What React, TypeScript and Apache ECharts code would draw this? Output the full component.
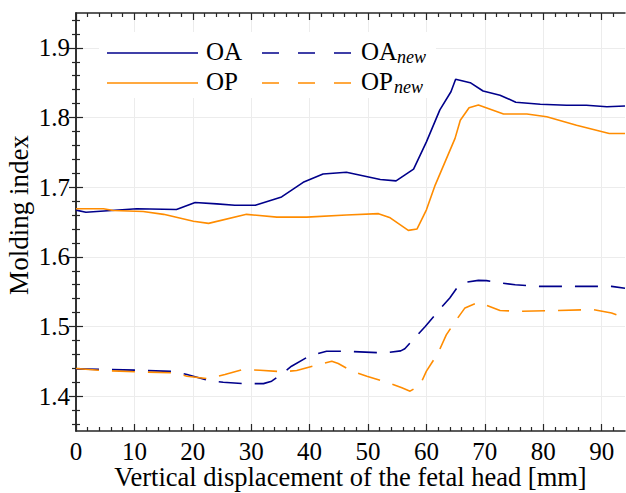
import React, { useEffect, useRef } from "react";
import * as echarts from "echarts";

// Vertical displacement of the fetal head [mm] and molding index, per configuration
const oaX = [0, 1.7, 10.4, 17.2, 20.4, 24.1, 27.2, 30.7, 35.2, 38.9, 42.3, 46.3, 52.1, 54.8, 57.8, 60.0, 62.3, 64.2, 65.0, 67.5, 69.7, 72.6, 75.3, 79.5, 84.0, 87.4, 90.9, 94];
const oaY = [1.667, 1.664, 1.669, 1.668, 1.678, 1.676, 1.674, 1.674, 1.686, 1.707, 1.719, 1.7215, 1.711, 1.709, 1.726, 1.765, 1.811, 1.837, 1.855, 1.85, 1.838, 1.832, 1.822, 1.819, 1.8175, 1.8175, 1.8155, 1.8165];

const opX = [0, 4.7, 6.4, 11.5, 15, 20.1, 22.7, 29.2, 34.4, 39.5, 46.3, 51.8, 53.8, 56.9, 58.4, 60.0, 61.5, 64.9, 65.8, 67.3, 68.9, 73.2, 77.2, 80.6, 85.7, 91.3, 94];
const opY = [1.669, 1.669, 1.6665, 1.665, 1.661, 1.651, 1.648, 1.661, 1.657, 1.657, 1.66, 1.662, 1.656, 1.638, 1.64, 1.6675, 1.703, 1.77, 1.796, 1.814, 1.818, 1.805, 1.805, 1.801, 1.789, 1.777, 1.777];

const oaNewX = [0, 10.4, 16.7, 19, 22.7, 25.2, 28.9, 32.1, 33.5, 34.9, 36.9, 40.1, 42.9, 46.3, 52.6, 55.6, 56.3, 58.0, 59.8, 62.3, 64.0, 65.2, 66.6, 68.9, 70.3, 72.6, 75.2, 78.9, 85.2, 91.7, 94];
const oaNewY = [1.4392, 1.4373, 1.4354, 1.431, 1.4225, 1.42, 1.418, 1.418, 1.4215, 1.4297, 1.443, 1.4583, 1.4645, 1.4645, 1.462, 1.465, 1.468, 1.4837, 1.5, 1.525, 1.541, 1.555, 1.5633, 1.5662, 1.5658, 1.5625, 1.56, 1.5576, 1.5576, 1.5576, 1.555];

const opNewX = [0, 4.1, 10.4, 16.7, 19, 22.7, 25.5, 28.4, 31.5, 35.5, 37.8, 41.5, 43.8, 44.9, 47.2, 49.8, 53.2, 55.8, 57.2, 58.9, 60.0, 62.0, 63.4, 65.0, 66.6, 68.9, 70.0, 72.6, 76.0, 82.3, 88.6, 91.7, 94];
const opNewY = [1.4397, 1.437, 1.435, 1.4335, 1.4287, 1.425, 1.431, 1.438, 1.4373, 1.435, 1.4368, 1.4455, 1.45, 1.4468, 1.436, 1.4287, 1.42, 1.412, 1.4072, 1.4158, 1.436, 1.462, 1.488, 1.508, 1.5267, 1.5347, 1.5314, 1.523, 1.5218, 1.523, 1.5242, 1.5195, 1.5123];

// Axis ticks
const xMajor = [0, 10, 20, 30, 40, 50, 60, 70, 80, 90];
const xMinor = [2, 4, 6, 8, 12, 14, 16, 18, 22, 24, 26, 28, 32, 34, 36, 38, 42, 44, 46, 48, 52, 54, 56, 58, 62, 64, 66, 68, 72, 74, 76, 78, 82, 84, 86, 88, 92];
const yMajor = [1.4, 1.5, 1.6, 1.7, 1.8, 1.9];
const yMinor = [1.36, 1.38, 1.42, 1.44, 1.46, 1.48, 1.52, 1.54, 1.56, 1.58, 1.62, 1.64, 1.66, 1.68, 1.72, 1.74, 1.76, 1.78, 1.82, 1.84, 1.86, 1.88, 1.92, 1.94];

const X_TITLE = "Vertical displacement of the fetal head [mm]";
const Y_TITLE = "Molding index";

const X_MIN = 0;
const X_MAX = 94;
const Y_MIN = 1.35;
const Y_MAX = 1.95;

const BLUE = "#00008b";
const ORANGE = "#ff8c00";
const FRAME = "#262626";
const FONT = "Liberation Serif";

const GRID_RECT = { left: 76, top: 13, right: 1, bottom: 62 };

const zip = (xs: number[], ys: number[]) => xs.map((x, i) => [x, ys[i]]);

function makeXAxis(gridIndex: number, position: "top" | "bottom", major: boolean, withLabels: boolean) {
  return {
    type: "value",
    gridIndex,
    position,
    min: X_MIN,
    max: X_MAX,
    interval: 10,
    axisLine: { show: major, lineStyle: { color: FRAME, width: 1.5 } },
    axisTick: {
      show: true,
      inside: true,
      length: major ? 7 : 4,
      customValues: major ? xMajor : xMinor,
      lineStyle: { color: FRAME, width: 1.2 },
    },
    axisLabel: {
      show: withLabels,
      customValues: xMajor,
      fontSize: 25,
      lineHeight: 26,
      fontFamily: FONT,
      color: "#000",
      margin: 7,
    },
    splitLine: { show: major && withLabels, lineStyle: { color: "#ececec", width: 1 } },
  };
}

function makeYAxis(gridIndex: number, position: "left" | "right", major: boolean, withLabels: boolean) {
  return {
    type: "value",
    gridIndex,
    position,
    min: Y_MIN,
    max: Y_MAX,
    axisLine: { show: major, lineStyle: { color: FRAME, width: 1.5 } },
    axisTick: {
      show: true,
      inside: true,
      length: major ? 7 : 4,
      customValues: major ? yMajor : yMinor,
      lineStyle: { color: FRAME, width: 1.2 },
    },
    axisLabel: {
      show: withLabels,
      customValues: yMajor,
      fontSize: 25,
      fontFamily: FONT,
      color: "#000",
      margin: 6,
      formatter: (v: number) => v.toFixed(1),
    },
    splitLine: { show: major && withLabels, lineStyle: { color: "#ececec", width: 1 } },
  };
}

// Axis titles, placed as free text so they never squeeze the plotting area
function axisTitles() {
  return [
    {
      type: "text",
      x: 350.5,
      y: 477,
      style: { text: X_TITLE, fontSize: 26.5, lineHeight: 20, fontFamily: FONT, fill: "#000", align: "center", verticalAlign: "middle" },
    },
    {
      type: "text",
      x: 19,
      y: 215,
      rotation: Math.PI / 2,
      style: { text: Y_TITLE, fontSize: 27, lineHeight: 22, fontFamily: FONT, fill: "#000", align: "center", verticalAlign: "middle" },
    },
  ];
}

// Hand-built legend on a white box: two columns, line sample + label with italic subscript
function legendItems() {
  const rows = [
    { y: 53, color: BLUE, main: "OA", subX: 397 },
    { y: 83, color: ORANGE, main: "OP", subX: 394 },
  ];
  const els: any[] = [
    {
      type: "rect",
      z: 100,
      shape: { x: 99, y: 32, width: 337, height: 66 },
      style: { fill: "#fff", stroke: null },
    },
  ];
  rows.forEach((r) => {
    els.push({
      type: "line",
      z: 101,
      shape: { x1: 107, y1: r.y, x2: 198, y2: r.y },
      style: { stroke: r.color, lineWidth: 1.6 },
    });
    els.push({
      type: "text",
      z: 101,
      x: 206,
      y: r.y - 1.5,
      style: { text: r.main, fontSize: 25, fontFamily: FONT, fill: "#000", verticalAlign: "middle", align: "left" },
    });
    els.push({
      type: "line",
      z: 101,
      shape: { x1: 262, y1: r.y, x2: 353, y2: r.y },
      style: { stroke: r.color, lineWidth: 1.6, lineDash: [17, 19] },
    });
    els.push({
      type: "text",
      z: 101,
      x: 361,
      y: r.y - 1.5,
      style: { text: r.main, fontSize: 25, fontFamily: FONT, fill: "#000", verticalAlign: "middle", align: "left" },
    });
    els.push({
      type: "text",
      z: 101,
      x: r.subX,
      y: r.y + 4,
      style: { text: "new", fontSize: 18, fontStyle: "italic", fontFamily: FONT, fill: "#000", verticalAlign: "middle", align: "left" },
    });
  });
  return els;
}

export default function App() {
  const ref = useRef<HTMLDivElement>(null);

  useEffect(() => {
    if (!ref.current) return;
    const chart = echarts.init(ref.current, null, { renderer: "svg" });
    const lineSeries = (name: string, xs: number[], ys: number[], color: string, dashed: boolean) => ({
      name,
      type: "line",
      xAxisIndex: 0,
      yAxisIndex: 0,
      data: zip(xs, ys),
      showSymbol: false,
      symbol: "none",
      smooth: false,
      lineStyle: { color, width: 1.6, type: dashed ? [23, 13] : "solid" },
      itemStyle: { color },
      z: 3,
    });
    chart.setOption({
      animation: false,
      backgroundColor: "#fff",
      grid: [
        { ...GRID_RECT, containLabel: false },
        { ...GRID_RECT, containLabel: false },
      ],
      xAxis: [
        makeXAxis(0, "bottom", true, true),
        makeXAxis(0, "top", true, false),
        makeXAxis(1, "bottom", false, false),
        makeXAxis(1, "top", false, false),
      ],
      yAxis: [
        makeYAxis(0, "left", true, true),
        makeYAxis(0, "right", true, false),
        makeYAxis(1, "left", false, false),
        makeYAxis(1, "right", false, false),
      ],
      series: [
        lineSeries("OA", oaX, oaY, BLUE, false),
        lineSeries("OP", opX, opY, ORANGE, false),
        lineSeries("OAnew", oaNewX, oaNewY, BLUE, true),
        lineSeries("OPnew", opNewX, opNewY, ORANGE, true),
      ],
      graphic: [...axisTitles(), ...legendItems()],
    });
    return () => chart.dispose();
  }, []);

  return (
    <div
      ref={ref}
      style={{ position: "fixed", left: 0, top: 0, width: 626, height: 493, background: "#fff" }}
    />
  );
}
